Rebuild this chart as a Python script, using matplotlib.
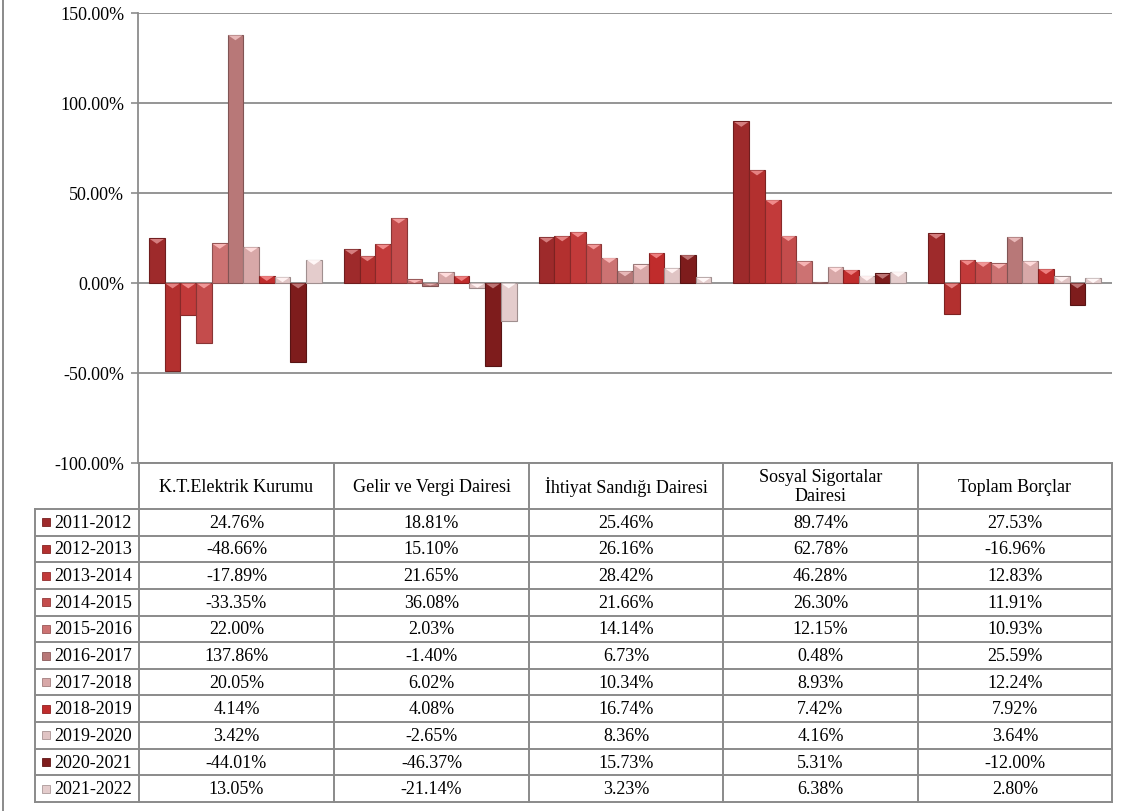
import matplotlib.pyplot as plt
import matplotlib.colors as mcolors
import numpy as np

plt.rcParams['font.family'] = ['Liberation Serif', 'DejaVu Serif']

categories = ['K.T.Elektrik Kurumu', 'Gelir ve Vergi Dairesi', 'İhtiyat Sandığı Dairesi',
              'Sosyal Sigortalar\nDairesi', 'Toplam Borçlar']
periods = ['2011-2012', '2012-2013', '2013-2014', '2014-2015', '2015-2016', '2016-2017',
           '2017-2018', '2018-2019', '2019-2020', '2020-2021', '2021-2022']
colors = ['#9e2a2b', '#b3302f', '#c23a3a', '#c44c4c', '#cc7272', '#b87878',
          '#d8a8a8', '#c02c2c', '#e0c4c4', '#7e1c1c', '#e4cccc']

# values in %, one list per period (columns = categories)
v_2011 = [24.76, 18.81, 25.46, 89.74, 27.53]
v_2012 = [-48.66, 15.10, 26.16, 62.78, -16.96]
v_2013 = [-17.89, 21.65, 28.42, 46.28, 12.83]
v_2014 = [-33.35, 36.08, 21.66, 26.30, 11.91]
v_2015 = [22.00, 2.03, 14.14, 12.15, 10.93]
v_2016 = [137.86, -1.40, 6.73, 0.48, 25.59]
v_2017 = [20.05, 6.02, 10.34, 8.93, 12.24]
v_2018 = [4.14, 4.08, 16.74, 7.42, 7.92]
v_2019 = [3.42, -2.65, 8.36, 4.16, 3.64]
v_2020 = [-44.01, -46.37, 15.73, 5.31, -12.00]
v_2021 = [13.05, -21.14, 3.23, 6.38, 2.80]
values = [v_2011, v_2012, v_2013, v_2014, v_2015, v_2016,
          v_2017, v_2018, v_2019, v_2020, v_2021]

yticks = [-100, -50, 0, 50, 100, 150]

W, H = 1127, 811
fs = 13
fig = plt.figure(figsize=(W / 100, H / 100), dpi=100)

def px(x0, y0, x1, y1):
    return [x0 / W, 1 - y1 / H, (x1 - x0) / W, (y1 - y0) / H]

grid_c = '#8c8c8c'
ax = fig.add_axes(px(138, 13, 1112, 463))
ax.set_xlim(0, 5)
ax.set_ylim(-100, 150)
for t in yticks:
    ax.axhline(t, color=grid_c, lw=1.3, zorder=0)
ax.set_yticks(yticks)
ax.set_yticklabels(['%.2f%%' % t for t in yticks], fontsize=fs)
ax.tick_params(axis='y', length=5, color=grid_c, width=1.2, pad=5)
ax.set_xticks([])
for s in ['top', 'right', 'bottom']:
    ax.spines[s].set_visible(False)
ax.spines['left'].set_color(grid_c)
ax.spines['left'].set_linewidth(1.3)

nb = len(periods)
bw = 0.0806
xc = np.arange(len(categories)) + 0.5
bev = 3.0
for i, (vals, c) in enumerate(zip(values, colors)):
    xs = xc + (i - (nb - 1) / 2) * bw
    dark = tuple(0.7 * d for d in mcolors.to_rgb(c))
    ax.bar(xs, vals, bw, color=c, edgecolor=dark, linewidth=0.8, zorder=3)
    light = tuple(min(1, d + 0.25 * (1 - d) + 0.12) for d in mcolors.to_rgb(c))
    for x, v in zip(xs, vals):
        top = max(v, 0)
        d = min(bev, abs(v))
        ax.fill([x - bw / 2 + 0.004, x + bw / 2 - 0.004, x], [top - 0.3, top - 0.3, top - d],
                color=light, zorder=4, lw=0)

# table overlay in pixel coordinates
tx = fig.add_axes([0, 0, 1, 1])
tx.set_xlim(0, W)
tx.set_ylim(H, 0)
tx.axis('off')
line_c = '#8a8a8a'
lw = 1.4
tx.plot([3, 3], [0, H], color=line_c, lw=lw)

col_x = [139, 334, 529, 723, 918, 1112]
hdr_top, hdr_bot = 463, 509
row_h = (802 - hdr_bot) / nb
lab_x0 = 35

# header
tx.plot([col_x[0], col_x[-1]], [hdr_top, hdr_top], color=line_c, lw=lw)
for x in col_x:
    tx.plot([x, x], [hdr_top, 802], color=line_c, lw=lw)
for j, name in enumerate(categories):
    tx.text((col_x[j] + col_x[j + 1]) / 2, (hdr_top + hdr_bot) / 2 + 1, name,
            ha='center', va='center', fontsize=fs, linespacing=1.2)

# rows
tx.plot([lab_x0, lab_x0], [hdr_bot, 802], color=line_c, lw=lw)
for r in range(nb + 1):
    y = hdr_bot + r * row_h
    tx.plot([lab_x0, col_x[-1]], [y, y], color=line_c, lw=lw)
for r in range(nb):
    yc = hdr_bot + (r + 0.5) * row_h
    tx.add_patch(plt.Rectangle((42, yc - 4), 8, 8, facecolor=colors[r],
                               edgecolor=tuple(0.75 * d for d in mcolors.to_rgb(colors[r])), lw=0.6))
    tx.text(54, yc + 1, periods[r], ha='left', va='center', fontsize=fs)
    for j in range(len(categories)):
        tx.text((col_x[j] + col_x[j + 1]) / 2, yc + 1, '%.2f%%' % values[r][j],
                ha='center', va='center', fontsize=fs)

fig.savefig('out.png', dpi=100)
